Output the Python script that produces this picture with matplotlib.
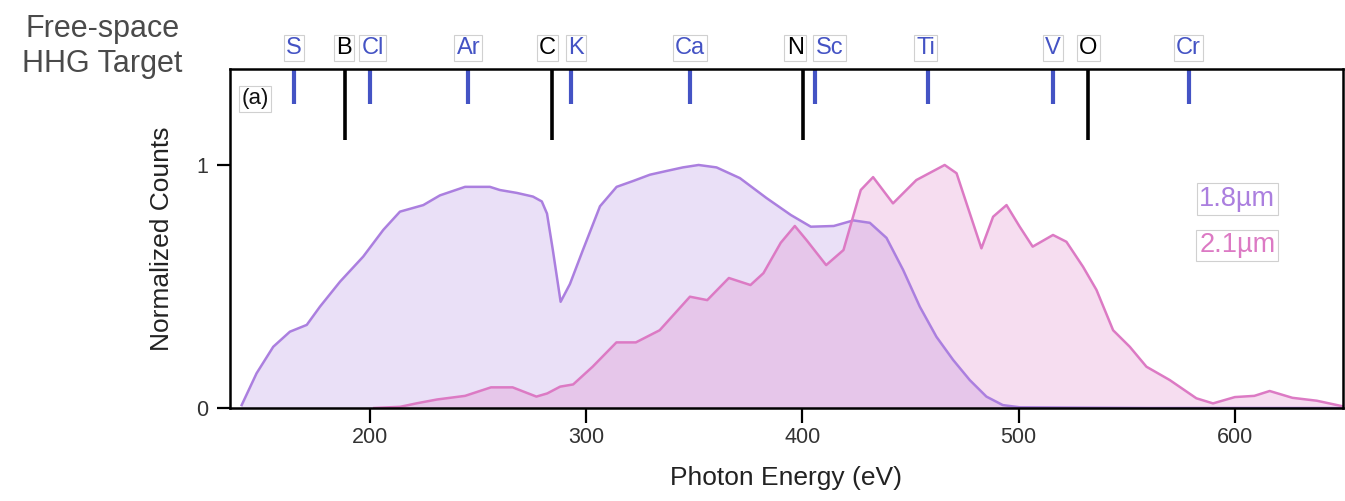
import numpy as np
import matplotlib
matplotlib.use("Agg")
import matplotlib.pyplot as plt
from matplotlib import transforms

plt.rcParams['font.family'] = ['Liberation Sans', 'DejaVu Sans']

# 1.8 um driven spectrum (eV, normalized counts)
e_18 = [140.7, 147.6, 155.3, 163.0, 170.8, 176.9, 186.2, 196.9, 206.2, 213.9,
        224.7, 232.4, 244.0, 255.5, 260.1, 268.0, 275.4, 279.5, 281.9, 284.6,
        288.2, 292.5, 298.5, 306.4, 314.1, 322.0, 329.5, 337.0, 344.7, 352.0,
        360.3, 371.1, 383.4, 394.7, 403.9, 414.5, 423.6, 431.2, 438.9, 446.6,
        454.3, 462.0, 469.7, 477.4, 485.1, 492.7, 500.5, 520.0, 560.0, 600.0, 650.0]
c_18 = [0.012, 0.143, 0.252, 0.314, 0.342, 0.417, 0.520, 0.623, 0.733, 0.808,
        0.835, 0.875, 0.910, 0.910, 0.897, 0.885, 0.870, 0.850, 0.800, 0.650,
        0.437, 0.510, 0.650, 0.830, 0.910, 0.935, 0.960, 0.975, 0.990, 1.000,
        0.990, 0.946, 0.864, 0.794, 0.746, 0.749, 0.772, 0.762, 0.700, 0.568,
        0.417, 0.293, 0.198, 0.115, 0.047, 0.012, 0.003, 0.002, 0.0, 0.0, 0.0]

# 2.1 um driven spectrum
e_21 = [202.0, 214.0, 222.0, 231.0, 244.0, 256.0, 266.0, 277.0, 282.0, 288.0,
        294.0, 303.0, 314.0, 323.0, 334.0, 348.0, 356.0, 366.0, 376.0, 382.0,
        390.0, 396.5, 402.0, 411.0, 419.0, 427.0, 432.7, 441.9, 452.7, 465.8,
        471.3, 475.9, 482.8, 488.2, 494.4, 500.5, 506.5, 515.9, 522.1, 529.8,
        536.0, 543.7, 551.4, 559.1, 569.9, 582.2, 589.9, 600.0, 609.0, 616.1,
        626.6, 637.9, 649.4]
c_21 = [0.0, 0.005, 0.020, 0.035, 0.050, 0.085, 0.085, 0.047, 0.060, 0.088,
        0.097, 0.170, 0.270, 0.270, 0.320, 0.458, 0.444, 0.535, 0.506, 0.555,
        0.680, 0.749, 0.690, 0.588, 0.650, 0.897, 0.950, 0.842, 0.938, 1.000,
        0.966, 0.842, 0.657, 0.787, 0.835, 0.746, 0.664, 0.712, 0.684, 0.581,
        0.486, 0.320, 0.252, 0.170, 0.115, 0.040, 0.019, 0.045, 0.050, 0.070,
        0.042, 0.030, 0.008]

# absorption edges of HHG targets
metal_names = ['S', 'Cl', 'Ar', 'K', 'Ca', 'Sc', 'Ti', 'V', 'Cr']
metal_edges = [165, 200, 245.5, 293, 348, 406, 458.3, 516, 579]
metal_dx = [0, 3, 0, 5, 0, 14, -3, 0, -1]
light_names = ['B', 'C', 'N', 'O']
light_edges = [188.5, 284, 400.4, 532.2]
light_dx = [-1, -4, -8, 0]

col_18 = '#ab7fdf'
col_21 = '#dc7ac4'
blue = '#4453c4'

fig = plt.figure(figsize=(13.45, 5.01), dpi=100)
ax = fig.add_axes([0.171, 0.1856, 0.8275, 0.6767])

ax.fill_between(e_18, c_18, 0, color=col_18, alpha=0.24, lw=0)
ax.fill_between(e_21, c_21, 0, color=col_21, alpha=0.25, lw=0)
ax.plot(e_18, c_18, color=col_18, lw=1.8)
ax.plot(e_21, c_21, color=col_21, lw=1.8)

ax.set_xlim(135.3, 650)
ax.set_ylim(0, 1.395)
top = 1.395

ax.vlines(metal_edges, 1.251, top, color=blue, lw=3)
ax.vlines(light_edges, 1.103, top, color='black', lw=2.6)

box = dict(boxstyle='square,pad=0.1', fc='white', ec='#d0d0d0', lw=0.8)
trans = transforms.blended_transform_factory(ax.transData, fig.transFigure)
for name, e, dx in zip(metal_names, metal_edges, metal_dx):
    ax.annotate(name, (e, 0.904), xycoords=trans, xytext=(dx * 0.72, 0),
                textcoords='offset points', ha='center', va='center',
                fontsize=17, color=blue, bbox=box, annotation_clip=False)
for name, e, dx in zip(light_names, light_edges, light_dx):
    ax.annotate(name, (e, 0.904), xycoords=trans, xytext=(dx * 0.72, 0),
                textcoords='offset points', ha='center', va='center',
                fontsize=17, color='black', bbox=box, annotation_clip=False)

ax.text(0.0225, 0.912, '(a)', transform=ax.transAxes, ha='center', va='center',
        fontsize=16, color='#111111', bbox=box)
ax.text(0.905, 0.617, '1.8\u00b5m', transform=ax.transAxes, ha='center', va='center',
        fontsize=19.5, color=col_18, bbox=box)
ax.text(0.905, 0.48, '2.1\u00b5m', transform=ax.transAxes, ha='center', va='center',
        fontsize=19.5, color=col_21, bbox=box)

fig.text(0.076, 0.926, 'Free-space', ha='center', va='baseline', fontsize=22, color='#4a4a4a')
fig.text(0.076, 0.856, 'HHG Target', ha='center', va='baseline', fontsize=22, color='#4a4a4a')

ax.set_xticks([200, 300, 400, 500, 600])
ax.set_yticks([0, 1])
ax.tick_params(axis='x', length=11, width=1.6, labelsize=15.5, labelcolor='#333333', pad=3)
ax.tick_params(axis='y', length=9.5, width=1.6, labelsize=15.5, labelcolor='#333333', pad=6)
for s in ax.spines.values():
    s.set_linewidth(1.8)

ax.set_xlabel('Photon Energy (eV)', fontsize=19, color='#222222')
ax.xaxis.set_label_coords(0.5, -0.17)
ax.set_ylabel('Normalized Counts', fontsize=19, color='#222222')
ax.yaxis.set_label_coords(-0.05, 0.5)

fig.savefig('out.png', dpi=100)
